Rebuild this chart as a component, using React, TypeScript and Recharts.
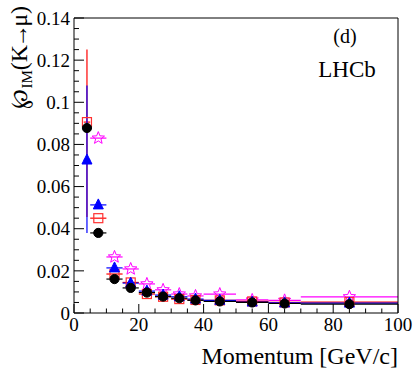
import React from 'react';
import { ComposedChart, Scatter, XAxis, YAxis, ErrorBar } from 'recharts';

const momentum = [4, 7.5, 12.5, 17.5, 22.5, 27.5, 32.5, 37.5, 45, 55, 65, 85];
const binHalfWidth = [1, 2.5, 2.5, 2.5, 2.5, 2.5, 2.5, 2.5, 5, 5, 5, 15];

const blackVals = [0.0878, 0.038, 0.0161, 0.0119, 0.0097, 0.0078, 0.007, 0.006, 0.0055, 0.005, 0.0045, 0.0042];
const redVals = [0.0906, 0.045, 0.0185, 0.0145, 0.009, 0.0077, 0.0066, 0.0062, 0.006, 0.0055, 0.005, 0.0052];
const blueVals = [0.0726, 0.0513, 0.0214, 0.0142, 0.0104, 0.0085, 0.0077, 0.0066, 0.006, 0.0052, 0.0048, 0.0047];
const magentaVals = [null, 0.083, 0.0266, 0.0209, 0.0138, 0.011, 0.009, 0.0081, 0.009, 0.0062, 0.006, 0.0077];

// first-bin vertical errors [lower, upper]
const redFirstErr = [0.045, 0.0344];
const blueFirstErr = [0.0346, 0.0354];

const xTicks = [0, 5, 10, 15, 20, 25, 30, 35, 40, 45, 50, 55, 60, 65, 70, 75, 80, 85, 90, 95, 100];
const xMajor = [0, 20, 40, 60, 80, 100];
const yTicks = [0, 0.005, 0.01, 0.015, 0.02, 0.025, 0.03, 0.035, 0.04, 0.045, 0.05, 0.055, 0.06, 0.065, 0.07, 0.075, 0.08, 0.085, 0.09, 0.095, 0.1, 0.105, 0.11, 0.115, 0.12, 0.125, 0.13, 0.135, 0.14];
const yMajor = [0, 0.02, 0.04, 0.06, 0.08, 0.1, 0.12, 0.14];
const yMajorLabels = ['0', '0.02', '0.04', '0.06', '0.08', '0.1', '0.12', '0.14'];

const FONT = '"Liberation Serif", "Times New Roman", serif';

type Pt = { x: number; y: number; xe: number; ye: number | number[] };

const makeSeries = (vals: (number | null)[], firstErr?: number[]): Pt[] =>
  momentum
    .map((m, i) => ({ x: m, y: vals[i] as number, xe: binHalfWidth[i], ye: i === 0 && firstErr ? firstErr : 0 }))
    .filter((d) => d.y != null);

const blackData = makeSeries(blackVals);
const redData = makeSeries(redVals, redFirstErr);
const blueData = makeSeries(blueVals, blueFirstErr);
const magentaData = makeSeries(magentaVals);

const isMajor = (arr: number[], v: number) => arr.some((a) => Math.abs(a - v) < 1e-9);

const BottomTick = (p: any) => {
  const { x, y, payload } = p;
  const major = isMajor(xMajor, payload.value);
  return (
    <g>
      <line x1={x} x2={x} y1={y} y2={y - (major ? 9 : 4.5)} stroke="#000" strokeWidth={1} />
      {major && (
        <text x={x} y={y + 18} textAnchor="middle" fontFamily={FONT} fontSize={19} fill="#000">
          {payload.value}
        </text>
      )}
    </g>
  );
};

const TopTick = (p: any) => {
  const { x, y, payload } = p;
  const major = isMajor(xMajor, payload.value);
  return <line x1={x} x2={x} y1={y} y2={y + (major ? 9 : 4.5)} stroke="#000" strokeWidth={1} />;
};

const LeftTick = (p: any) => {
  const { x, y, payload } = p;
  const idx = yMajor.findIndex((a) => Math.abs(a - payload.value) < 1e-9);
  const major = idx >= 0;
  return (
    <g>
      <line x1={x} x2={x + (major ? 10 : 5)} y1={y} y2={y} stroke="#000" strokeWidth={1} />
      {major && (
        <text x={x - 4} y={y} dy="0.35em" textAnchor="end" fontFamily={FONT} fontSize={19} fill="#000">
          {yMajorLabels[idx]}
        </text>
      )}
    </g>
  );
};

const RightTick = (p: any) => {
  const { x, y, payload } = p;
  const major = isMajor(yMajor, payload.value);
  return <line x1={x} x2={x - (major ? 10 : 5)} y1={y} y2={y} stroke="#000" strokeWidth={1} />;
};

const CircleShape = (p: any) => <circle cx={p.cx} cy={p.cy} r={4.6} fill="#000" stroke="#000" />;
const SquareShape = (p: any) => (
  <rect x={p.cx - 4.5} y={p.cy - 4.5} width={9} height={9} fill="#fff" fillOpacity={0} stroke="#ff3030" strokeWidth={1.2} />
);
const TriangleShape = (p: any) => (
  <polygon
    points={`${p.cx},${p.cy - 6} ${p.cx - 5},${p.cy + 4} ${p.cx + 5},${p.cy + 4}`}
    fill="#0000ff"
    stroke="#0000ff"
  />
);
const StarShape = (p: any) => {
  const pts: string[] = [];
  for (let k = 0; k < 10; k++) {
    const r = k % 2 === 0 ? 6.5 : 2.8;
    const a = -Math.PI / 2 + (k * Math.PI) / 5;
    pts.push(`${p.cx + r * Math.cos(a)},${p.cy + r * Math.sin(a)}`);
  }
  return <polygon points={pts.join(' ')} fill="none" stroke="#ff00ff" strokeWidth={1} />;
};

export default function App() {
  return (
    <div style={{ position: 'absolute', left: 0, top: 0, width: 415, height: 374, background: '#fff' }}>
      <ComposedChart width={415} height={374} margin={{ top: 0, right: 0, bottom: 0, left: 0 }}>
        <XAxis
          dataKey="x"
          type="number"
          domain={[0, 100]}
          ticks={xTicks}
          interval={0}
          height={61}
          tickSize={0}
          tickMargin={0}
          tick={<BottomTick />}
          axisLine={{ stroke: '#000', strokeWidth: 1 }}
          allowDataOverflow
        />
        <XAxis
          xAxisId="top"
          orientation="top"
          type="number"
          domain={[0, 100]}
          ticks={xTicks}
          interval={0}
          height={18}
          tickSize={0}
          tickMargin={0}
          tick={<TopTick />}
          axisLine={{ stroke: '#000', strokeWidth: 1 }}
        />
        <YAxis
          dataKey="y"
          type="number"
          domain={[0, 0.14]}
          ticks={yTicks}
          interval={0}
          width={74}
          tickSize={0}
          tickMargin={0}
          tick={<LeftTick />}
          axisLine={{ stroke: '#000', strokeWidth: 1 }}
          allowDataOverflow
        />
        <YAxis
          yAxisId="right"
          orientation="right"
          type="number"
          domain={[0, 0.14]}
          ticks={yTicks}
          interval={0}
          width={17}
          tickSize={0}
          tickMargin={0}
          tick={<RightTick />}
          axisLine={{ stroke: '#000', strokeWidth: 1 }}
        />
        <Scatter data={magentaData} dataKey="y" isAnimationActive={false} shape={<StarShape />}>
          <ErrorBar dataKey="xe" direction="x" width={0} stroke="#ff00ff" strokeWidth={1.2} />
        </Scatter>
        <Scatter data={redData} dataKey="y" isAnimationActive={false} shape={<SquareShape />}>
          <ErrorBar dataKey="xe" direction="x" width={0} stroke="#ff0000" strokeWidth={1.2} />
          <ErrorBar dataKey="ye" direction="y" width={0} stroke="#ff0000" strokeWidth={1.2} />
        </Scatter>
        <Scatter data={blueData} dataKey="y" isAnimationActive={false} shape={<TriangleShape />}>
          <ErrorBar dataKey="xe" direction="x" width={0} stroke="#0000ff" strokeWidth={1.2} />
          <ErrorBar dataKey="ye" direction="y" width={0} stroke="#0000ff" strokeWidth={1.2} />
        </Scatter>
        <Scatter data={blackData} dataKey="y" isAnimationActive={false} shape={<CircleShape />}>
          <ErrorBar dataKey="xe" direction="x" width={0} stroke="#000" strokeWidth={1.2} />
        </Scatter>
      </ComposedChart>
      <svg width={415} height={374} style={{ position: 'absolute', left: 0, top: 0, pointerEvents: 'none' }}>
        <text x={398} y={364} textAnchor="end" fontFamily={FONT} fontSize={24} fill="#000">
          Momentum [GeV/c]
        </text>
        <text x={345} y={43} textAnchor="middle" fontFamily={FONT} fontSize={20} fill="#000">
          (d)
        </text>
        <text x={347} y={77} textAnchor="middle" fontFamily={FONT} fontSize={23} fill="#000">
          LHCb
        </text>
        <text
          transform="translate(27,6) rotate(-90)"
          textAnchor="end"
          fontFamily={FONT}
          fontSize={24}
          fill="#000"
        >
          <tspan>℘</tspan>
          <tspan fontSize={15} dy={5}>IM</tspan>
          <tspan dy={-5}>(K</tspan>
          <tspan dx={-3}>→</tspan>
          <tspan dx={-3}>μ)</tspan>
        </text>
      </svg>
    </div>
  );
}
